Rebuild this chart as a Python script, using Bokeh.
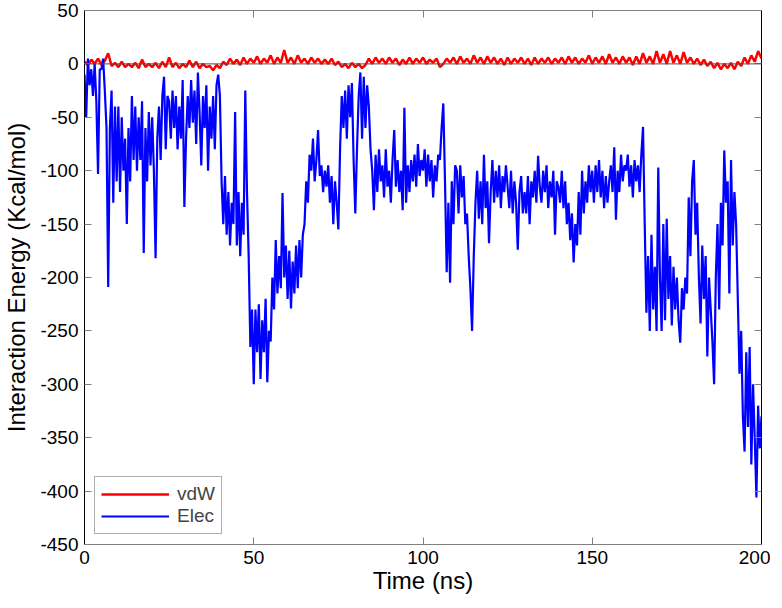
import numpy as np
from bokeh.plotting import figure
from bokeh.models import Range1d, LinearAxis, FixedTicker, Span, Legend, LegendItem
from bokeh.embed import file_html
from bokeh.resources import INLINE

# ---- data ----
elec_step = 0.5   # ns between Elec samples
vdw_step = 1.0    # ns between vdW samples

elec = [
    -10, -50, 5, -20, -5, -30, 0, -35, -103, -5,
    -5, 5, -25, -60, -209, -60, -25, -130, -40, -110,
    -40, -120, -50, -100, -70, -150, -60, -110, -30, -90,
    -40, -100, -50, -90, -35, -177, -60, -110, -45, -95,
    -50, -100, -182, -70, -40, -90, -30, -12, -80, -30,
    -35, -70, -25, -60, -30, -80, -40, -70, -15, -134,
    -70, -30, -60, -15, -55, -25, -75, -8, -45, -95,
    -30, -60, -20, -100, -40, -70, -30, -80, -20, -10,
    -30, -110, -150, -105, -160, -120, -170, -130, -150, -45,
    -170, -120, -180, -130, -160, -25, -120, -180, -265, -230,
    -300, -230, -270, -225, -295, -240, -270, -220, -298, -250,
    -260, -200, -230, -165, -215, -180, -210, -121, -200, -170,
    -220, -175, -229, -185, -215, -170, -210, -165, -200, -160,
    -150, -110, -130, -85, -100, -70, -110, -90, -62, -105,
    -95, -120, -100, -115, -95, -130, -105, -150, -110, -130,
    -155, -80, -30, -60, -25, -70, -20, -50, -18, -90,
    -140, -80, -30, -8, -70, -12, -60, -20, -40, -80,
    -100, -137, -85, -120, -80, -110, -95, -125, -80, -115,
    -100, -130, -90, -62, -115, -90, -120, -100, -137, -41,
    -130, -95, -120, -90, -110, -85, -115, -75, -105, -90,
    -100, -80, -115, -85, -110, -90, -125, -95, -110, -85,
    -90, -60, -37, -110, -195, -130, -205, -110, -150, -95,
    -100, -140, -95, -125, -105, -150, -140, -180, -210, -250,
    -180, -130, -100, -145, -110, -150, -85, -135, -110, -168,
    -120, -90, -130, -100, -125, -95, -135, -105, -120, -95,
    -115, -135, -100, -140, -110, -130, -174, -120, -105, -140,
    -120, -140, -105, -150, -110, -125, -100, -130, -86, -115,
    -130, -100, -120, -95, -135, -110, -125, -100, -160, -110,
    -115, -130, -100, -135, -110, -150, -130, -165, -140, -186,
    -150, -170, -120, -160, -100, -140, -110, -130, -95, -120,
    -100, -130, -95, -120, -90, -125, -100, -135, -105, -130,
    -110, -95, -120, -78, -146, -100, -120, -85, -110, -95,
    -100, -85, -115, -95, -125, -90, -110, -95, -120, -85,
    -59, -150, -233, -180, -250, -160, -230, -190, -250, -97,
    -200, -250, -150, -240, -145, -220, -180, -245, -190, -230,
    -200, -240, -261, -210, -230, -200, -215, -125, -180, -110,
    -90, -160, -130, -200, -243, -170, -220, -180, -274, -200,
    -230, -260, -300, -200, -150, -230, -130, -170, -81, -130,
    -110, -215, -90, -170, -120, -150, -220, -290, -250, -330,
    -363, -270, -340, -265, -375, -300, -350, -406, -320, -360, -330,
]

vdw = [
    2, -1, 4, 0, 5, -1, 3, 10, -2, 1,
    -3, 2, -3, 0, -3, 1, -4, 4, -3, 0,
    -3, 1, -4, 2, -3, 6, -3, 1, -4, 0,
    -3, 3, -3, 2, -4, 0, -3, -2, -6, -1,
    -4, 2, -1, 5, 0, 4, -1, 6, 0, 5,
    1, 7, 0, 5, 1, 8, 0, 6, 1, 13,
    1, 6, 0, 8, 1, 5, 0, 6, 1, 5,
    0, 4, 0, 5, -1, 2, -3, 0, -4, 1,
    -3, 0, -4, -1, 5, 0, 6, 1, 5, 0,
    6, 1, 5, -1, 4, 0, 6, 0, 5, 1,
    6, 0, 4, 1, 5, -3, 0, 5, 1, 6,
    0, 7, 1, 5, 0, 8, 1, 6, 0, 7,
    1, 6, 0, 5, -1, 6, 0, 5, 1, 6,
    0, 5, -1, 6, 0, 5, 1, 6, 0, 5,
    1, 6, 0, 7, 1, 6, 0, 5, 1, 8,
    0, 6, 1, 7, 0, 9, 1, 6, 0, 7,
    1, 6, -1, 7, 0, 10, 1, 7, 0, 12,
    1, 9, 0, 12, 1, 8, 0, 11, 1, 6,
    0, 5, -1, 4, -2, 2, -4, 1, -5, 0,
    -4, 1, -5, 2, -2, 6, 0, 8, 2, 12, 5,
]

x_ticks = [0, 50, 100, 150, 200]
y_ticks = [50, 0, -50, -100, -150, -200, -250, -300, -350, -400, -450]
y_tick_labels = {t: str(t) for t in y_ticks}   # plain hyphen minus, as in the reference

t_elec = np.arange(len(elec)) * elec_step
t_vdw = np.arange(len(vdw)) * vdw_step

FONT = "Liberation Sans"
GRAY = "#808080"

p = figure(width=770, height=600, output_backend="svg", toolbar_location=None,
           x_range=Range1d(0, 200), y_range=Range1d(-450, 50),
           x_axis_location=None, y_axis_location=None,
           min_border_left=83, min_border_right=9, min_border_top=10, min_border_bottom=56)
p.outline_line_color = None
p.xgrid.visible = False
p.ygrid.visible = False
p.background_fill_color = "white"
p.border_fill_color = "white"


def make_axis(ticks, line_color, label=None, show_labels=True):
    ax = LinearAxis(ticker=FixedTicker(ticks=ticks, minor_ticks=[]))
    ax.axis_line_color = line_color
    ax.axis_line_width = 1
    ax.major_tick_in = 7
    ax.major_tick_out = 0
    ax.major_tick_line_color = GRAY
    ax.minor_tick_line_color = None
    if show_labels:
        ax.major_label_text_font = FONT
        ax.major_label_text_font_size = "19px"
        ax.major_label_text_color = "black"
    else:
        ax.major_label_text_font_size = "0px"
        ax.major_label_standoff = 0
        ax.major_label_overrides = {t: "" for t in ticks}
    if label:
        ax.axis_label = label
        ax.axis_label_text_font = FONT
        ax.axis_label_text_font_size = "24px"
        ax.axis_label_text_font_style = "normal"
        ax.axis_label_text_color = "black"
    return ax


left = make_axis(y_ticks, "black", "Interaction Energy (Kcal/mol)")
left.major_label_overrides = y_tick_labels
left.major_label_standoff = 6
left.axis_label_standoff = 7
bottom = make_axis(x_ticks, GRAY, "Time (ns)")
bottom.major_label_standoff = 6
bottom.axis_label_standoff = 0
right = make_axis(y_ticks, "black", show_labels=False)
top = make_axis(x_ticks, GRAY, show_labels=False)

p.add_layout(left, "left")
p.add_layout(bottom, "below")
p.add_layout(right, "right")
p.add_layout(top, "above")

r_vdw = p.line(t_vdw, vdw, line_color="#ff0000", line_width=2.5)
zero = Span(location=0, dimension="width", line_color="#4d4d4d", line_width=1)
p.add_layout(zero)
r_elec = p.line(t_elec, elec, line_color="#0000ff", line_width=2.2)

legend = Legend(items=[LegendItem(label="vdW", renderers=[r_vdw]),
                       LegendItem(label="Elec", renderers=[r_elec])],
                location="bottom_left")
legend.margin = 10
legend.padding = 6
legend.spacing = 0
legend.glyph_width = 68
legend.glyph_height = 18
legend.label_height = 18
legend.label_standoff = 8
legend.label_text_font = FONT
legend.label_text_font_size = "19px"
legend.border_line_color = "#606060"
legend.border_line_width = 1
legend.background_fill_color = "white"
legend.background_fill_alpha = 1.0
p.add_layout(legend)

open("out.html", "w").write(file_html(p, INLINE))
